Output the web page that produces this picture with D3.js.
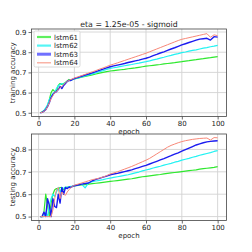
<!DOCTYPE html>
<html><head><meta charset="utf-8">
<script src="https://cdn.jsdelivr.net/npm/d3@7"></script>
<style>html,body{margin:0;padding:0;background:#fff;}svg{display:block;font-family:"DejaVu Sans",sans-serif;}</style>
</head><body>
<script>
const title = "eta = 1.25e-05 - sigmoid";
const seriesNames = ["lstm61","lstm62","lstm63","lstm64"];
const epochs = [1,2,3,4,5,6,7,8,9,10,11,12,13,14,15,16,17,18,19,20,
22,24,26,28,30,32,34,36,38,40,42,44,46,48,50,52,54,56,58,60,62,64,66,68,70,72,74,76,78,80,82,84,86,88,90,92,94,96,98,100];
const xTicks = [0,20,40,60,80,100];
const trainTicks = [0.5,0.6,0.7,0.8,0.9];
const testTicks = [0.5,0.6,0.7,0.8];

const train61 = [0.50,0.505,0.51,0.52,0.535,0.565,0.60,0.615,0.605,0.61,0.635,0.645,0.64,0.645,0.65,0.658,0.665,0.662,0.665,0.668,
0.672,0.676,0.680,0.684,0.688,0.692,0.696,0.700,0.704,0.707,0.709,0.711,0.713,0.715,0.718,0.720,0.722,0.725,0.728,0.731,0.733,0.735,0.737,0.739,0.742,0.744,0.746,0.748,0.751,0.753,0.756,0.758,0.761,0.763,0.766,0.768,0.771,0.773,0.776,0.778];
const train62 = [0.50,0.503,0.51,0.525,0.54,0.565,0.58,0.595,0.60,0.62,0.635,0.64,0.645,0.64,0.65,0.655,0.66,0.66,0.665,0.668,
0.673,0.678,0.683,0.688,0.693,0.698,0.704,0.709,0.715,0.720,0.723,0.726,0.730,0.733,0.736,0.739,0.743,0.746,0.750,0.753,0.757,0.762,0.766,0.771,0.775,0.780,0.784,0.789,0.793,0.798,0.801,0.805,0.809,0.812,0.816,0.820,0.823,0.827,0.830,0.834];
const train63 = [0.50,0.502,0.508,0.515,0.53,0.55,0.575,0.59,0.60,0.605,0.615,0.63,0.62,0.635,0.645,0.655,0.66,0.66,0.665,0.67,
0.675,0.681,0.687,0.692,0.698,0.704,0.710,0.716,0.722,0.728,0.732,0.736,0.740,0.744,0.749,0.753,0.757,0.761,0.766,0.770,0.776,0.783,0.789,0.796,0.802,0.809,0.816,0.822,0.829,0.836,0.842,0.848,0.854,0.860,0.865,0.867,0.869,0.860,0.877,0.875];
const train64 = [0.50,0.502,0.506,0.515,0.53,0.55,0.57,0.585,0.60,0.605,0.615,0.625,0.63,0.64,0.648,0.655,0.66,0.665,0.668,0.672,
0.678,0.684,0.690,0.697,0.703,0.709,0.716,0.722,0.729,0.736,0.741,0.747,0.753,0.759,0.765,0.771,0.777,0.783,0.789,0.795,0.802,0.809,0.816,0.823,0.830,0.837,0.844,0.851,0.858,0.864,0.868,0.872,0.876,0.880,0.884,0.888,0.892,0.874,0.886,0.882];

const test61 = [0.50,0.50,0.52,0.60,0.55,0.50,0.56,0.60,0.62,0.625,0.62,0.63,0.63,0.62,0.63,0.632,0.63,0.633,0.635,0.637,
0.639,0.641,0.643,0.645,0.647,0.649,0.651,0.653,0.655,0.657,0.659,0.661,0.663,0.665,0.667,0.669,0.672,0.675,0.678,0.680,0.682,0.684,0.686,0.688,0.691,0.693,0.695,0.697,0.699,0.701,0.703,0.705,0.707,0.709,0.712,0.714,0.716,0.718,0.720,0.723];
const test62 = [0.50,0.50,0.50,0.52,0.50,0.55,0.58,0.60,0.59,0.61,0.63,0.61,0.63,0.625,0.632,0.63,0.633,0.635,0.636,0.638,
0.642,0.645,0.628,0.652,0.656,0.659,0.662,0.665,0.669,0.672,0.675,0.678,0.681,0.684,0.687,0.691,0.695,0.699,0.704,0.708,0.712,0.717,0.721,0.725,0.730,0.734,0.738,0.743,0.747,0.752,0.756,0.760,0.765,0.769,0.774,0.778,0.782,0.786,0.791,0.795];
const test63 = [0.50,0.50,0.52,0.50,0.58,0.55,0.50,0.58,0.545,0.54,0.60,0.56,0.63,0.60,0.63,0.625,0.632,0.63,0.635,0.638,
0.641,0.645,0.648,0.650,0.660,0.666,0.671,0.676,0.681,0.687,0.690,0.693,0.697,0.701,0.705,0.709,0.714,0.719,0.724,0.729,0.735,0.741,0.747,0.753,0.759,0.766,0.772,0.779,0.785,0.792,0.799,0.806,0.813,0.820,0.825,0.830,0.834,0.836,0.838,0.839];
const test64 = [0.50,0.50,0.50,0.50,0.50,0.50,0.50,0.53,0.58,0.62,0.63,0.58,0.61,0.60,0.595,0.61,0.62,0.63,0.635,0.64,
0.645,0.650,0.655,0.660,0.665,0.668,0.672,0.677,0.683,0.690,0.695,0.700,0.706,0.712,0.718,0.724,0.731,0.738,0.745,0.752,0.760,0.770,0.780,0.790,0.800,0.810,0.818,0.824,0.830,0.835,0.839,0.842,0.845,0.847,0.849,0.850,0.851,0.842,0.853,0.852];

const colors = ["#2ee82e","#22f2f2","#1c1cf0","#f88878"];
const widths = [1.2,1.2,1.4,1.0];
const legendColors = ["#5ef05e","#55f5f5","#7070ff","#f8a090"];
const legendWidths = [2.2,2.2,3,1.2];

const W = 252, H = 252;
const svg = d3.select("body").append("svg").attr("width",W).attr("height",H);
const x = d3.scaleLinear().domain([-3.95,104.95]).range([31.5,226.5]);

function panel(top, bottom, ydom, yticks, data, ylabel, withLegend){
  const y = d3.scaleLinear().domain(ydom).range([bottom, top]);
  const g = svg.append("g");
  // grid
  g.selectAll(".gx").data(xTicks).enter().append("line")
    .attr("x1",d=>x(d)).attr("x2",d=>x(d)).attr("y1",top).attr("y2",bottom)
    .attr("stroke","#d2d2d2").attr("stroke-width",0.9);
  g.selectAll(".gy").data(yticks).enter().append("line")
    .attr("y1",d=>y(d)).attr("y2",d=>y(d)).attr("x1",x.range()[0]).attr("x2",x.range()[1])
    .attr("stroke","#d2d2d2").attr("stroke-width",0.9);
  // lines
  const line = d3.line().x((d,i)=>x(epochs[i])).y(d=>y(d));
  data.forEach((s,k)=>{
    g.append("path").attr("d",line(s)).attr("fill","none")
      .attr("stroke",colors[k]).attr("stroke-width",widths[k]).attr("stroke-linejoin","round");
  });
  // axes
  const ax = d3.axisBottom(x).tickValues(xTicks).tickSize(3).tickPadding(2).tickFormat(d3.format("d"));
  const gx = g.append("g").attr("transform",`translate(0,${bottom})`).call(ax);
  const ay = d3.axisLeft(y).tickValues(yticks).tickSize(3).tickPadding(2).tickFormat(d3.format(".1f"));
  const gy = g.append("g").attr("transform",`translate(${x.range()[0]},0)`).call(ay);
  [gx,gy].forEach(a=>{
    a.select(".domain").remove();
    a.selectAll("line").attr("stroke","#444").attr("stroke-width",0.8);
    a.selectAll("text").attr("font-size",7).attr("fill","#222").attr("font-family","DejaVu Sans");
  });
  // frame
  g.append("rect").attr("x",x.range()[0]).attr("y",top).attr("width",x.range()[1]-x.range()[0]).attr("height",bottom-top)
    .attr("fill","none").attr("stroke","#444").attr("stroke-width",0.8);
  g.append("text").attr("x",(x.range()[0]+x.range()[1])/2).attr("y",bottom+17.5).attr("text-anchor","middle")
    .attr("font-size",7).attr("fill","#222").text("epoch");
  g.append("text").attr("transform",`translate(15,${(top+bottom)/2}) rotate(-90)`).attr("text-anchor","middle")
    .attr("font-size",7).attr("fill","#222").text(ylabel);
  if(withLegend){
    const lg = g.append("g");
    lg.append("rect").attr("x",34).attr("y",31).attr("width",46).attr("height",36).attr("rx",1.5)
      .attr("fill","#fff").attr("fill-opacity",0.85).attr("stroke","#d0d0d0").attr("stroke-width",0.8);
    seriesNames.forEach((n,k)=>{
      const yy = 37 + k*8.6;
      lg.append("line").attr("x1",37).attr("x2",51).attr("y1",yy).attr("y2",yy)
        .attr("stroke",legendColors[k]).attr("stroke-width",legendWidths[k]);
      lg.append("text").attr("x",54).attr("y",yy+2.5).attr("font-size",7).attr("fill","#222").text(n);
    });
  }
}

panel(29, 116.5, [0.4815,0.915], trainTicks, [train61,train62,train63,train64], "training accuracy", true);
panel(134, 220.5, [0.4825,0.869], testTicks, [test61,test62,test63,test64], "testing accuracy", false);

svg.append("text").attr("x",129).attr("y",26.5).attr("text-anchor","middle").attr("font-size",7.8).attr("fill","#222").text(title);
</script>
</body></html>
